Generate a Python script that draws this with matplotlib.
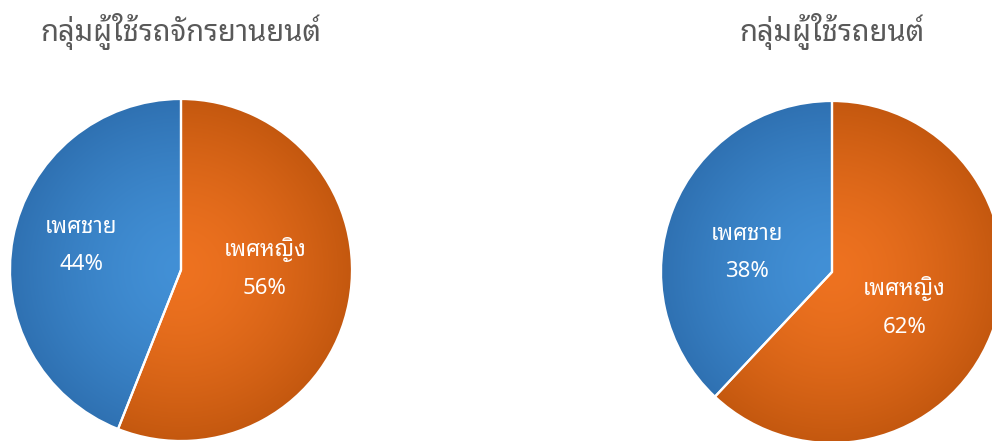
import numpy as np
import matplotlib
matplotlib.use("Agg")
import matplotlib.pyplot as plt
from matplotlib.colors import to_rgb

plt.rcParams['font.family'] = ['Noto Sans Thai Looped', 'Noto Sans Thai', 'DejaVu Sans']

titles = ['กลุ่มผู้ใช้รถจักรยานยนต์', 'กลุ่มผู้ใช้รถยนต์']
groups = ['เพศชาย', 'เพศหญิง']
motorcycle = [44, 56]
car = [38, 62]

# centre / rim colours for the shaded wedges
light = ['#4290d6', '#ee7220']
dark = ['#2f71b2', '#c4580f']

# label placement: (fraction of radius, angle shift in degrees) per wedge
label_place = [[(0.6, -3), (0.49, 12)], [(0.51, 9), (0.47, -4)]]

W, H = 992, 441
fig = plt.figure(figsize=(W / 100, H / 100), dpi=100)
ax = fig.add_axes([0, 0, 1, 1])

centers = [(181, 171), (832, 169)]
R = 171

yy, xx = np.mgrid[-1:1:300j, -1:1:300j]
dist = np.clip(np.hypot(xx, yy), 0, 1)[..., None]

for (cx, cy), title, vals, place in zip(centers, titles, [motorcycle, car], label_place):
    wedges, texts, autotexts = ax.pie(
        vals, center=(cx, cy), radius=R, startangle=90, counterclock=True,
        colors=light, autopct='%d%%', pctdistance=0.6,
        wedgeprops=dict(edgecolor='white', linewidth=1.6),
        textprops=dict(color='white', fontsize=16))
    for w, c1, c2 in zip(wedges, light, dark):
        img = np.array(to_rgb(c1)) * (1 - dist ** 1.5) + np.array(to_rgb(c2)) * dist ** 1.5
        im = ax.imshow(img, extent=(cx - R, cx + R, cy - R, cy + R), origin='lower',
                       zorder=1, interpolation='bilinear')
        im.set_clip_path(w)
        w.set_facecolor('none')
        w.set_zorder(2)
    for w, t, g, (frac, shift) in zip(wedges, autotexts, groups, place):
        mid = np.deg2rad((w.theta1 + w.theta2) / 2 + shift)
        t.set_position((cx + frac * R * np.cos(mid), cy + frac * R * np.sin(mid)))
        t.set_text(g + '\n' + t.get_text())
        t.set_linespacing(2.0)
        t.set_zorder(3)
    ax.text(cx, H - 31, title, ha='center', va='center', fontsize=21, color='#595959')

ax.set_xlim(0, W)
ax.set_ylim(0, H)
ax.set_aspect('auto')
ax.axis('off')

fig.savefig('out.png', dpi=100)
